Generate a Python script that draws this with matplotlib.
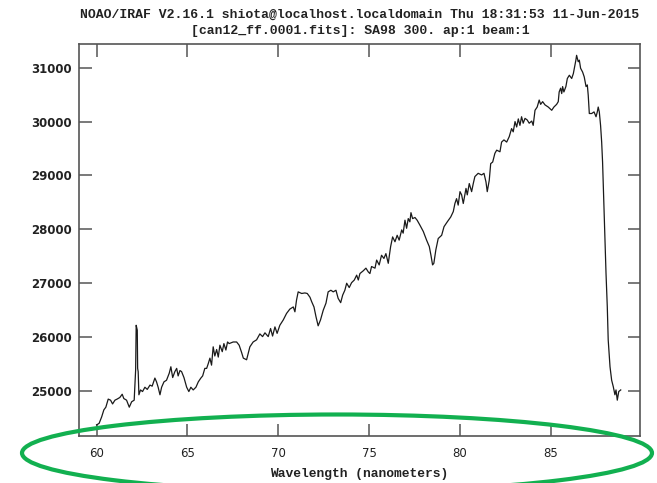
import matplotlib
matplotlib.use("Agg")
import matplotlib.pyplot as plt
from matplotlib.patches import Ellipse

# --- Spectrum samples (wavelength in nm, counts) ---
wavelength_nm = [
    60.00, 60.14, 60.28, 60.40, 60.51, 60.64, 60.77, 60.88, 61.01, 61.13,
    61.28, 61.41, 61.50, 61.65, 61.80, 61.93, 62.07, 62.15, 62.18, 62.24,
    62.26, 62.29, 62.33, 62.42, 62.53, 62.66, 62.79, 62.94, 63.06, 63.21,
    63.30, 63.39, 63.49, 63.58, 63.71, 63.85, 64.00, 64.09, 64.19, 64.31,
    64.41, 64.49, 64.59, 64.68, 64.81, 64.96, 65.08, 65.19, 65.32, 65.47,
    65.60, 65.74, 65.84, 65.96, 66.06, 66.15, 66.24, 66.33, 66.42, 66.51,
    66.61, 66.70, 66.79, 66.92, 67.01, 67.12, 67.21, 67.30, 67.52, 67.71,
    67.85, 67.98, 68.08, 68.26, 68.44, 68.62, 68.81, 68.99, 69.14, 69.27,
    69.45, 69.58, 69.69, 69.82, 69.94, 70.09, 70.28, 70.46, 70.64, 70.83,
    70.92, 71.01, 71.10, 71.29, 71.47, 71.60, 71.75, 71.84, 71.97, 72.08,
    72.20, 72.33, 72.48, 72.63, 72.75, 72.90, 73.03, 73.18, 73.30, 73.44,
    73.55, 73.67, 73.77, 73.91, 74.04, 74.19, 74.32, 74.41, 74.50, 74.68,
    74.83, 74.96, 75.05, 75.14, 75.33, 75.42, 75.56, 75.69, 75.82, 75.93,
    76.06, 76.19, 76.30, 76.43, 76.55, 76.66, 76.80, 76.88, 76.98, 77.07,
    77.16, 77.25, 77.31, 77.40, 77.53, 77.65, 77.80, 77.99, 78.17, 78.32,
    78.41, 78.50, 78.57, 78.68, 78.81, 79.00, 79.13, 79.31, 79.50, 79.64,
    79.73, 79.82, 79.91, 80.01, 80.10, 80.19, 80.34, 80.41, 80.52, 80.65,
    80.74, 80.83, 81.01, 81.20, 81.33, 81.44, 81.51, 81.62, 81.70, 81.81,
    81.93, 82.03, 82.21, 82.30, 82.43, 82.58, 82.72, 82.85, 82.94, 83.04,
    83.13, 83.22, 83.31, 83.40, 83.49, 83.59, 83.71, 83.82, 83.96, 84.04,
    84.14, 84.26, 84.37, 84.45, 84.56, 84.69, 84.87, 85.06, 85.18, 85.33,
    85.42, 85.47, 85.55, 85.61, 85.66, 85.73, 85.84, 85.92, 86.03, 86.16,
    86.25, 86.34, 86.39, 86.43, 86.52, 86.58, 86.65, 86.76, 86.85, 86.95,
    87.02, 87.07, 87.13, 87.26, 87.39, 87.50, 87.57, 87.62, 87.68, 87.75,
    87.81, 87.86, 87.90, 87.99, 88.05, 88.12, 88.17, 88.27, 88.36, 88.45,
    88.54, 88.60, 88.67, 88.75, 88.86,
]
flux_counts = [
    24370, 24400, 24520, 24650, 24700, 24850, 24830, 24760, 24830, 24850,
    24880, 24940, 24860, 24830, 24700, 24800, 24830, 25390, 26220, 26130,
    25420, 25360, 24930, 25020, 24990, 25070, 25030, 25110, 25090, 25240,
    25170, 25070, 24930, 25070, 25170, 25200, 25330, 25450, 25250, 25360,
    25420, 25280, 25380, 25360, 25250, 25070, 24990, 25070, 25020, 25070,
    25170, 25240, 25280, 25420, 25420, 25510, 25610, 25480, 25820, 25650,
    25770, 25630, 25850, 25730, 25880, 25760, 25910, 25880, 25910, 25910,
    25850, 25720, 25610, 25580, 25820, 25910, 25950, 26060, 26010, 26080,
    26010, 26160, 26020, 26190, 26070, 26220, 26320, 26440, 26520, 26560,
    26470, 26690, 26840, 26810, 26820, 26810, 26740, 26660, 26560, 26380,
    26210, 26320, 26500, 26630, 26840, 26870, 26840, 26870, 26720, 26640,
    26780, 26870, 27000, 26920, 27010, 27060, 27150, 27060, 27180, 27230,
    27280, 27210, 27180, 27310, 27280, 27430, 27340, 27520, 27460, 27550,
    27370, 27680, 27860, 27770, 27890, 27800, 27990, 27930, 28170, 28020,
    28200, 28140, 28310, 28200, 28220, 28170, 28080, 27960, 27800, 27680,
    27520, 27340, 27370, 27620, 27830, 27890, 28050, 28140, 28230, 28330,
    28480, 28570, 28450, 28700, 28640, 28480, 28760, 28640, 28850, 28700,
    28850, 28980, 29040, 29010, 29040, 28880, 28700, 28910, 29220, 29250,
    29410, 29470, 29440, 29620, 29660, 29620, 29720, 29870, 29810, 30000,
    29900, 30050, 29930, 30090, 29970, 30060, 30030, 29970, 30010, 29930,
    30210, 30270, 30400, 30320, 30370, 30310, 30270, 30210, 30270, 30320,
    30370, 30550, 30620, 30520, 30650, 30550, 30650, 30800, 30860, 30800,
    30890, 31050, 31140, 31230, 31110, 31140, 30990, 30920, 30830, 30650,
    30680, 30490, 30150, 30150, 30180, 30090, 30180, 30270, 30180, 29930,
    29620, 29250, 28820, 27860, 27180, 26560, 25950, 25450, 25200, 25080,
    24930, 25020, 24830, 24990, 25020,
]

x_ticks = [60, 65, 70, 75, 80, 85]
y_ticks = [25000, 26000, 27000, 28000, 29000, 30000, 31000]

title_top = "NOAO/IRAF V2.16.1 shiota@localhost.localdomain Thu 18:31:53 11-Jun-2015"
title_sub = "[can12_ff.0001.fits]: SA98 300. ap:1 beam:1"
x_label = "Wavelength (nanometers)"

# --- Figure ---
fig = plt.figure(figsize=(6.57, 4.83), dpi=100)
ax = fig.add_axes([0.1202, 0.0973, 0.8539, 0.8116])

ax.plot(wavelength_nm, flux_counts, color="#1a1a1a", lw=0.9)

ax.set_xlim(59.03, 89.92)
ax.set_ylim(24165, 31440)
ax.set_xticks(x_ticks)
ax.set_yticks(y_ticks)
ax.set_xticklabels([str(t) for t in x_ticks], family="DejaVu Sans", fontsize=8.5)
ax.set_yticklabels([str(t) for t in y_ticks], family="DejaVu Sans",
                   fontweight="bold", fontsize=8.5)

frame_col = "#555555"
for side in ax.spines.values():
    side.set_color(frame_col)
    side.set_linewidth(1.2)
ax.tick_params(axis="both", direction="in", top=True, right=True,
               length=9, width=1.1, color=frame_col, labelcolor="#222222")
ax.tick_params(axis="x", pad=8)
ax.tick_params(axis="y", pad=5)

ax.set_xlabel(x_label, family="Liberation Mono", fontweight="bold",
              fontsize=9.4, color="#222222", labelpad=6)

fig.text(0.547, 0.969, title_top, ha="center", va="center",
         family="Liberation Mono", fontweight="bold", fontsize=9.45, color="#222222")
fig.text(0.549, 0.936, title_sub, ha="center", va="center",
         family="Liberation Mono", fontweight="bold", fontsize=9.45, color="#222222")

# --- Highlight ring around the wavelength axis ---
ring = Ellipse((337 / 657, 1 - 453 / 483), 630 / 657, 77 / 483,
               transform=fig.transFigure, fill=False,
               edgecolor="#12b050", linewidth=3, clip_on=False)
fig.add_artist(ring)

fig.savefig("out.png", dpi=100)
